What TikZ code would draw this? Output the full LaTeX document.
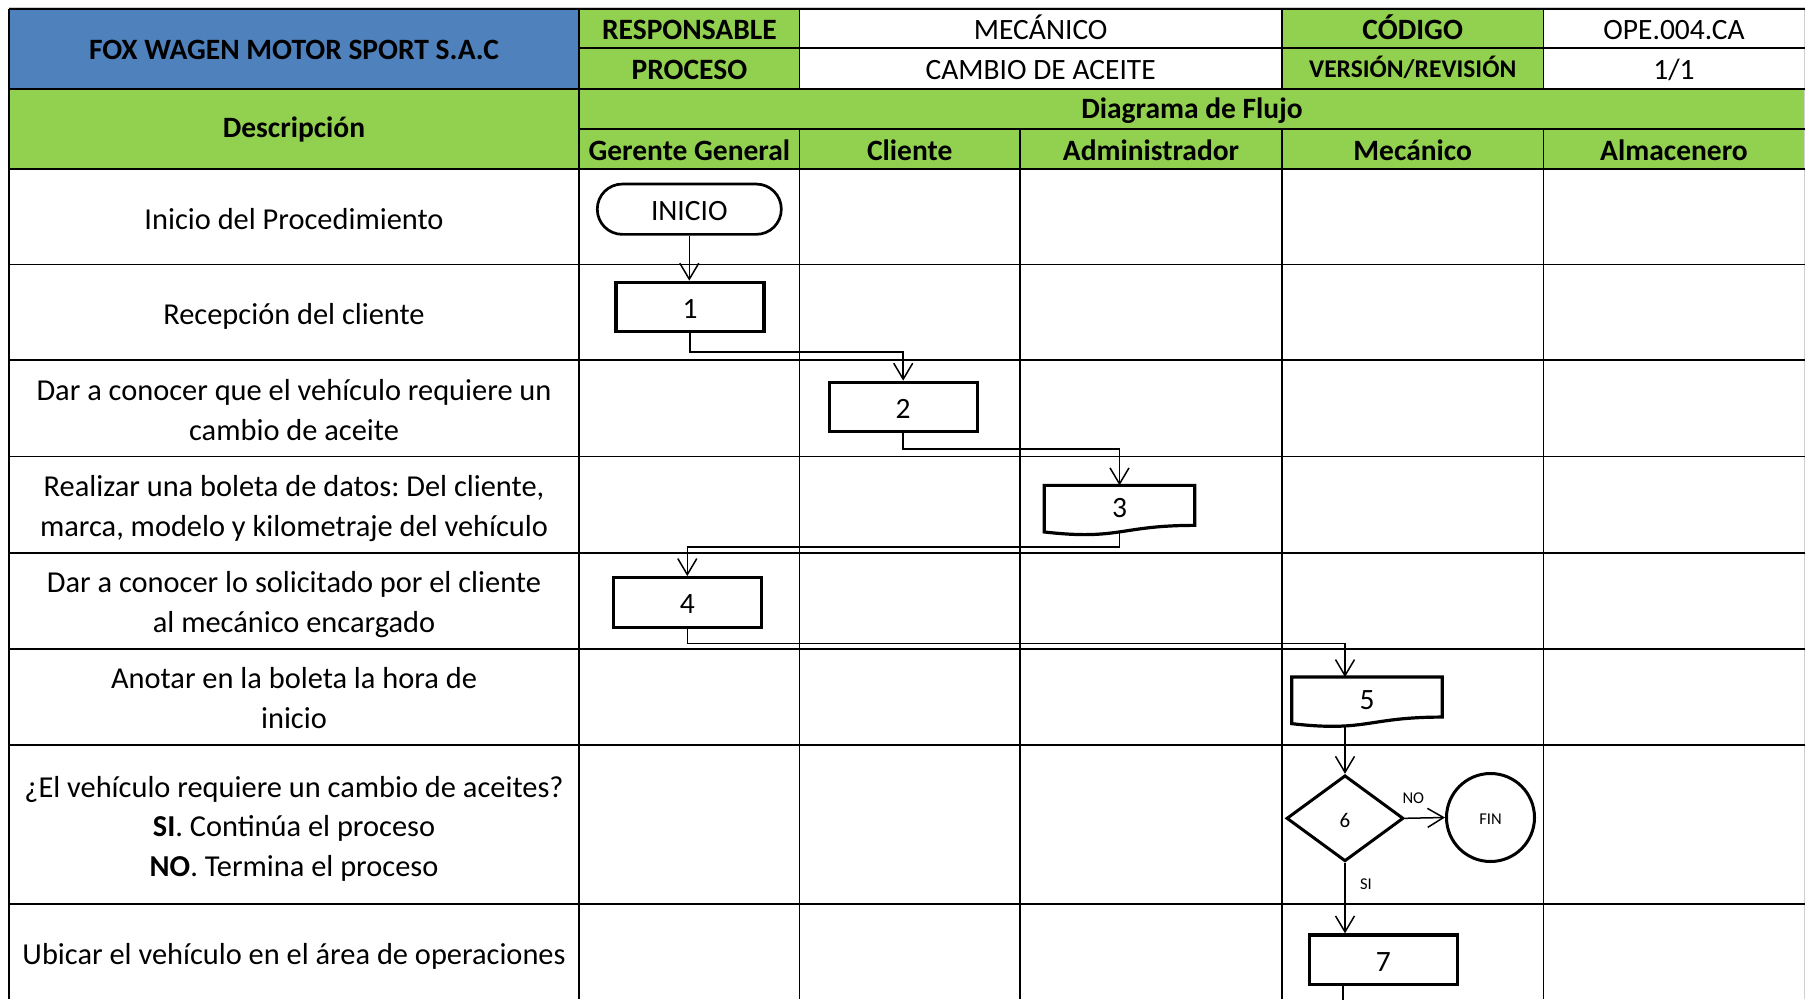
\documentclass[tikz,border=0pt]{standalone}
\usepackage{fontspec}
\setmainfont{Carlito}
\usetikzlibrary{arrows.meta,shapes.geometric,calc}
\frenchspacing

\definecolor{hdrblue}{RGB}{79,129,189}
\definecolor{hdrgreen}{RGB}{146,208,80}
\definecolor{sheetgray}{RGB}{208,208,208}

% font sizes (1pt = 1 unit of the sheet)
\newcommand\fbody{\fontsize{29.5}{39.5}\selectfont}
\newcommand\fdesc{\fontsize{30.4}{39.5}\selectfont}
\newcommand\fver{\fontsize{25.5}{30}\selectfont}
\newcommand\fsix{\fontsize{21}{25}\selectfont}
\newcommand\fsmall{\fontsize{16.5}{20}\selectfont}
% equal height and depth for every text line
\newcommand\lnstrut{\rule[-0.25em]{0pt}{1.15em}}
% move a label inside its symbol without changing the symbol's size
\newcommand\nudge[2]{\raisebox{#1}[\height][\depth]{#2}}

\tikzset{
  grid/.style={line width=1.8pt},
  cell/.style={align=center, inner sep=0pt, font=\fbody},
  hcell/.style={cell, font=\fbody\bfseries},
  dcell/.style={cell, font=\fdesc},
  proc/.style={draw, line width=3.2pt, rectangle, minimum width=148pt,
    minimum height=49.5pt, inner sep=0pt, font=\fbody},
  term/.style={draw, line width=2.7pt, rectangle, rounded corners=25pt,
    minimum width=184pt, minimum height=50.3pt, inner sep=0pt, font=\fbody},
  docbox/.style={rectangle, minimum width=150pt, minimum height=49.5pt,
    inner sep=0pt, font=\fbody},
  docline/.style={line width=3.2pt, line join=miter},
  decision/.style={draw, diamond, line width=3pt, minimum width=117pt,
    minimum height=86pt, inner sep=0pt, font=\fsix},
  endc/.style={draw, circle, line width=3pt, minimum size=88pt,
    inner sep=0pt, font=\fsmall},
  lbl/.style={inner sep=0pt, font=\fsmall},
  flow/.style={line width=1.5pt},
  conn/.style={flow, -{Straight Barb[length=16pt, width=19pt]}},
}

\begin{document}
\begin{tikzpicture}[x=1pt, y=-1pt]
\useasboundingbox (0,0) rectangle (1805,999);

% ---- cell fills
\fill[hdrblue]  (9,9) rectangle (579.3,88.6);
\fill[hdrgreen] (579.3,9) rectangle (799.5,88.6);
\fill[hdrgreen] (1282,9) rectangle (1543.5,88.6);
\fill[hdrgreen] (9,88.6) rectangle (1805,169);

% ---- sheet gridlines outside the table
\draw[sheetgray, line width=1pt] (9,7) -- (1805,7);
\draw[sheetgray, line width=1pt] (1804.5,7) -- (1804.5,999);

% ---- table rules
\foreach \y in {9,88.6,169,264.5,360.3,456.5,552.7,648.7,744.7,904.3}
  \draw[grid] (9,\y) -- (1805,\y);
\foreach \y in {48.3,129}
  \draw[grid] (579.3,\y) -- (1805,\y);
\foreach \x in {9,579.3}
  \draw[grid] (\x,9) -- (\x,999);
\foreach \x in {799.5,1282,1543.5}{
  \draw[grid] (\x,9) -- (\x,88.6);
  \draw[grid] (\x,129) -- (\x,999);
}
\draw[grid] (1020,129) -- (1020,999);

% ---- header texts
\node[hcell] (company) at (294,49.5) {\lnstrut FOX WAGEN MOTOR SPORT S.A.C};
\node[hcell] (resp)    at (689.4,29.5) {\lnstrut RESPONSABLE};
\node[cell]  (respv)   at (1040.7,29.5) {\lnstrut MECÁNICO};
\node[hcell] (cod)     at (1412.7,29.5) {\lnstrut CÓDIGO};
\node[cell]  (codv)    at (1674,29.5) {\lnstrut OPE.004.CA};
\node[hcell] (proc)    at (689.4,69.6) {\lnstrut PROCESO};
\node[cell]  (procv)   at (1040.7,69.6) {\lnstrut CAMBIO DE ACEITE};
\node[cell, font=\fver\bfseries] (ver) at (1412.7,69.6) {\lnstrut VERSIÓN/REVISIÓN};
\node[cell]  (verv)    at (1674,69.6) {\lnstrut 1/1};
\node[hcell] (desc)    at (294,128.3) {\lnstrut Descripción};
\node[hcell] (diag)    at (1192,109.4) {\lnstrut Diagrama de Flujo};
\node[hcell] (laneA)   at (689.4,150.5) {\lnstrut Gerente General};
\node[hcell] (laneB)   at (909.7,150.5) {\lnstrut Cliente};
\node[hcell] (laneC)   at (1151,150.5) {\lnstrut Administrador};
\node[hcell] (laneD)   at (1412.7,150.5) {\lnstrut Mecánico};
\node[hcell] (laneE)   at (1674,150.5) {\lnstrut Almacenero};

% ---- step descriptions
\node[dcell] (t1) at (294,219.5) {\lnstrut Inicio del Procedimiento};
\node[dcell] (t2) at (294,314.8) {\lnstrut Recepción del cliente};
\node[dcell] (t3) at (294,410.5) {\lnstrut Dar a conocer que el vehículo requiere un\\\lnstrut cambio de aceite};
\node[dcell] (t4) at (294,506.6) {\lnstrut Realizar una boleta de datos: Del cliente,\\\lnstrut marca, modelo y kilometraje del vehículo};
\node[dcell] (t5) at (294,602.7) {\lnstrut Dar a conocer lo solicitado por el cliente\\\lnstrut al mecánico encargado};
\node[dcell] (t6) at (294,698.7) {\lnstrut Anotar en la boleta la hora de\\\lnstrut inicio};
\node[dcell] (t7) at (294,826.7) {\lnstrut ¿El vehículo requiere un cambio de aceites?\\\lnstrut \textbf{SI}. Continúa el proceso\\\lnstrut \textbf{NO}. Termina el proceso};
\node[dcell] (t8) at (294,954.8) {\lnstrut Ubicar el vehículo en el área de operaciones};

% ---- flowchart symbols
\node[term] (inicio) at (689.3,209.2) {\nudge{-1.6pt}{INICIO}};
\node[proc] (b1) at (690,307) {\nudge{-2pt}{1}};
\node[proc] (b2) at (903.2,407) {\nudge{-2pt}{2}};
\node[docbox] (d3) at (1119.5,510.3) {\nudge{2.5pt}{3}};
\node[proc] (b4) at (687.3,602.4) {\nudge{-2pt}{4}};
\node[docbox] (d5) at (1367,702) {\nudge{2pt}{5}};
\node[decision] (dia) at (1345,818.3) {\nudge{-2pt}{6}};
\node[endc] (fin) at (1490.5,817.5) {\nudge{-2pt}{FIN}};
\node[proc] (b7) at (1383.3,959.7) {\nudge{-2pt}{7}};

% document outlines with a wavy lower edge
\draw[docline] (d3.north west) -- (d3.north east)
  -- ($(d3.north east)!0.802!(d3.south east)$)
  .. controls ($(d3.north)!0.802!(d3.south)$) and ($(d3.north)!1.107!(d3.south)$)
  .. ($(d3.north west)!0.934!(d3.south west)$) coordinate[pos=0.5] (d3out) -- cycle;
\draw[docline] (d5.north west) -- (d5.north east)
  -- ($(d5.north east)!0.802!(d5.south east)$)
  .. controls ($(d5.north)!0.802!(d5.south)$) and ($(d5.north)!1.107!(d5.south)$)
  .. ($(d5.north west)!0.934!(d5.south west)$) coordinate[pos=0.683] (d5out) -- cycle;

% ---- connectors
\draw[conn] (inicio.south) -- (inicio.south |- b1.north);
\draw[conn] (b1.south) -- ++(0,18.5) -| (b2.north);
\draw[conn] (b2.south) -- ++(0,15.5) -| (d3.north);
\draw[conn] (d3out) -- ++(0,15) -| (b4.north);
\draw[conn] (b4.south) -- ++(0,14.5) -| (dia.north |- d5.north);
\draw[conn] (dia.north |- d5out) -- (dia.north);
\draw[conn] (dia.east) -- (fin.west);
\draw[conn] (dia.south) -- (dia.south |- b7.north);
\coordinate (exit7) at (1343,1001);
\draw[flow] (b7.south -| exit7) -- (exit7);

% ---- branch labels
\node[lbl] (no) at (1413.3,798) {NO};
\node[lbl] (si) at (1366,884) {SI};
\end{tikzpicture}
\end{document}
